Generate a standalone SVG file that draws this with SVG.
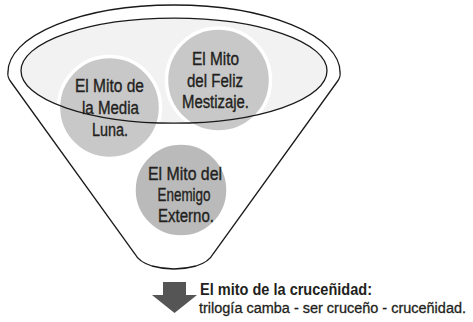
<svg xmlns="http://www.w3.org/2000/svg" width="473" height="322" viewBox="0 0 473 322">
<style>
.line{fill:none;stroke:#1a1a1a;stroke-width:1.3}
.c1{fill:#c8c8c8;stroke:#ffffff;stroke-width:3.5}
.c2{fill:#bababa;stroke:#ffffff;stroke-width:3.5}
.t{font-family:"Liberation Sans",Arial,sans-serif;font-size:17.5px;fill:#231f20;stroke:#231f20;stroke-width:0.35;text-anchor:middle}
.b{font-family:"Liberation Sans",Arial,sans-serif;font-size:16px;fill:#231f20}
.r{font-size:14.7px;stroke:#231f20;stroke-width:0.3}
</style>
<rect width="473" height="322" fill="#ffffff"/>
<g id="funnel">
<path d="M 8 72 A 166 67 0 0 1 340 72 Q 341 77 337 82 L 213 254 Q 209 262 196 266 Q 174 272 152 266 Q 139 262 135 254 L 11 82 Q 7 77 8 72 Z" fill="#ffffff" stroke="#1a1a1a" stroke-width="1.3"/>
<ellipse cx="174" cy="70.7" rx="153" ry="52.5" fill="#f2f2f2"/>
</g>
<g id="node-media-luna">
<circle class="c1" cx="109.5" cy="107.5" r="51"/>
<text class="t"><tspan x="109.5" y="92" textLength="69" lengthAdjust="spacingAndGlyphs">El Mito de</tspan><tspan x="110.5" y="114" textLength="57" lengthAdjust="spacingAndGlyphs">la Media</tspan><tspan x="110" y="136" textLength="36" lengthAdjust="spacingAndGlyphs">Luna.</tspan></text>
</g>
<g id="node-feliz-mestizaje">
<circle class="c1" cx="218.5" cy="80" r="52"/>
<text class="t"><tspan x="215.5" y="65" textLength="47" lengthAdjust="spacingAndGlyphs">El Mito</tspan><tspan x="215" y="87" textLength="56" lengthAdjust="spacingAndGlyphs">del Feliz</tspan><tspan x="215.5" y="108" textLength="67" lengthAdjust="spacingAndGlyphs">Mestizaje.</tspan></text>
</g>
<g id="rim">
<ellipse class="line" cx="174" cy="70.7" rx="153" ry="52.5"/>
</g>
<g id="node-enemigo-externo">
<circle class="c2" cx="181" cy="190" r="47"/>
<text class="t"><tspan x="185" y="180" textLength="74" lengthAdjust="spacingAndGlyphs">El Mito del</tspan><tspan x="184" y="200.5" textLength="53" lengthAdjust="spacingAndGlyphs">Enemigo</tspan><tspan x="186" y="221.5" textLength="56" lengthAdjust="spacingAndGlyphs">Externo.</tspan></text>
</g>
<g id="connectors">
<polygon points="163,282 186,282 186,295 197,295 174.5,313 152,295 163,295" fill="#555555"/>
</g>
<g id="node-crucenidad">
<text class="b" x="200" y="295" font-weight="bold" textLength="172" lengthAdjust="spacingAndGlyphs">El mito de la cruceñidad:</text>
<text class="b r" x="199" y="313" textLength="267" lengthAdjust="spacingAndGlyphs">trilogía camba - ser cruceño - cruceñidad.</text>
</g>
</svg>
